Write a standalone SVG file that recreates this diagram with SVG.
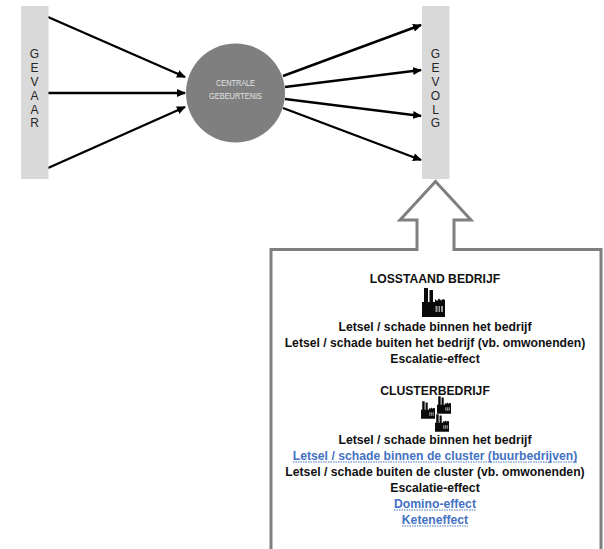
<svg xmlns="http://www.w3.org/2000/svg" width="604" height="549" viewBox="0 0 604 549">
<style>
.bar{fill:#d9d9d9}
.side{font:12px "Liberation Sans",Arial,sans-serif;fill:#262626;text-anchor:middle}
.c{font:8.5px "Liberation Sans",Arial,sans-serif;fill:#e4e4e4;text-anchor:middle}
.t{font:bold 12.2px "Liberation Sans",Arial,sans-serif;fill:#111;text-anchor:middle}
.b{fill:#4472c4}
.u{stroke:#4472c4;stroke-width:1;stroke-dasharray:1.5 1;fill:none}
.con{stroke:#000;stroke-width:2.4;fill:none;marker-end:url(#ah)}
.block{fill:#fff;stroke:#7f7f7f;stroke-width:3}
</style>
<defs>
<marker id="ah" markerUnits="userSpaceOnUse" markerWidth="9" markerHeight="9" refX="8" refY="4.500" orient="auto"><path d="M0 0.500L9 4.500L0 8.500Z" fill="#000"/></marker>
<symbol id="factory" viewBox="0 0 23 29" overflow="visible">
<path d="M0 14H2V0H6V14H7.500V2H11V14H13V11L15 13L17 10.500L19 12.500L21 11L23 12V29H0Z" fill="#0a0a0a"/>
<path d="M13.500 18H15.500V24H13.500ZM16.500 18H18V24H16.500ZM19 18H21V24H19Z" fill="#999"/>
</symbol>
</defs>
<g id="connectors">
<path class="con" d="M48 17L185 77"/>
<path class="con" d="M48 93L185 93"/>
<path class="con" d="M48 168L185 107"/>
<path class="con" d="M283 76L421 25"/>
<path class="con" d="M285 87L421 70"/>
<path class="con" d="M285 99L421 116"/>
<path class="con" d="M283 108L421 160"/>
</g>
<g id="gevaar"><rect class="bar" x="21" y="6" width="27.500" height="173"/>
<text class="side" x="34.500" y="58">G</text><text class="side" x="34.500" y="72">E</text><text class="side" x="34.500" y="86">V</text><text class="side" x="34.500" y="100">A</text><text class="side" x="34.500" y="114">A</text><text class="side" x="34.500" y="127">R</text></g>
<g id="centrale"><circle cx="235.500" cy="93" r="49.500" fill="#7f7f7f"/>
<text class="c" x="235.500" y="85.500" textLength="39" lengthAdjust="spacingAndGlyphs">CENTRALE</text><text class="c" x="235.500" y="98.500" textLength="53" lengthAdjust="spacingAndGlyphs">GEBEURTENIS</text></g>
<g id="gevolg"><rect class="bar" x="422" y="6" width="27.500" height="173"/>
<text class="side" x="435.500" y="58">G</text><text class="side" x="435.500" y="72">E</text><text class="side" x="435.500" y="86">V</text><text class="side" x="435.500" y="100">O</text><text class="side" x="435.500" y="114">L</text><text class="side" x="435.500" y="127">G</text></g>
<g id="info">
<path class="block" d="M271 552V249.500H417V220H400L435.500 181.500L471 220H454V249.500H601V552Z"/>
<text class="t" x="435" y="283">LOSSTAAND BEDRIJF</text>
<use href="#factory" x="422" y="288" width="23" height="29"/>
<text class="t" x="435" y="330.500">Letsel / schade binnen het bedrijf</text>
<text class="t" x="435" y="346.500">Letsel / schade buiten het bedrijf (vb. omwonenden)</text>
<text class="t" x="435" y="363">Escalatie-effect</text>
<text class="t" x="435" y="395">CLUSTERBEDRIJF</text>
<use href="#factory" x="421" y="401" width="14" height="18"/>
<use href="#factory" x="437" y="396" width="14" height="18"/>
<use href="#factory" x="435" y="414" width="14" height="18"/>
<text class="t" x="435" y="443.500">Letsel / schade binnen het bedrijf</text>
<text class="t b" x="435" y="460">Letsel / schade binnen de cluster (buurbedrijven)</text>
<path class="u" d="M293 462H577"/>
<text class="t" x="435" y="476">Letsel / schade buiten de cluster (vb. omwonenden)</text>
<text class="t" x="435" y="491.500">Escalatie-effect</text>
<text class="t b" x="435" y="508">Domino-effect</text>
<path class="u" d="M394 510H476"/>
<text class="t b" x="435" y="524">Keteneffect</text>
<path class="u" d="M402 526H468"/>
</g>
</svg>
